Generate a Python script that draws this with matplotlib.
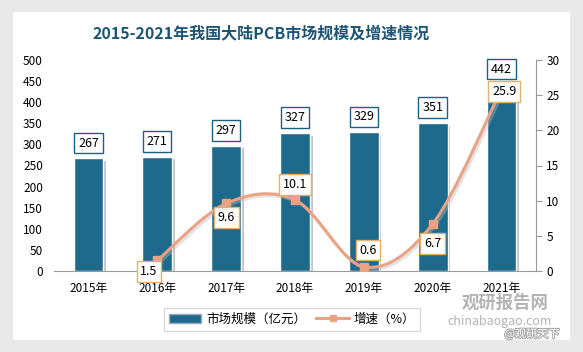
import matplotlib
matplotlib.use("Agg")
import matplotlib.pyplot as plt
from matplotlib.path import Path
from matplotlib.patches import PathPatch, FancyBboxPatch, Rectangle
from matplotlib.lines import Line2D
import matplotlib.patheffects as pe
import numpy as np

plt.rcParams['font.family'] = ['Noto Sans CJK SC', 'DejaVu Sans']
plt.rcParams['hatch.color'] = '#c4c4c4'
plt.rcParams['hatch.linewidth'] = 0.7

years = ['2015年', '2016年', '2017年', '2018年', '2019年', '2020年', '2021年']
market = [267, 271, 297, 327, 329, 351, 442]
growth_years = ['2016年', '2017年', '2018年', '2019年', '2020年', '2021年']
growth = [1.5, 9.6, 10.1, 0.6, 6.7, 25.9]
title = '2015-2021年我国大陆PCB市场规模及增速情况'
bar_name = '市场规模（亿元）'
line_name = '增速（%）'

BAR_C = '#1e6a8d'
LINE_C = '#eaa283'
LBL_BAR = '#1f5f80'
LBL_LINE = '#e3b26a'

W, H = 583, 352
fig = plt.figure(figsize=(W / 100, H / 100), dpi=100)
fig.patch.set_facecolor('#e9e9e9')

# white card
card = FancyBboxPatch((13 / W, 1 - 340 / H), 557 / W, 328 / H, boxstyle='square,pad=0',
                      transform=fig.transFigure, facecolor='white', edgecolor='none', zorder=-5)
fig.patches.append(card)

ax = fig.add_axes([54 / W, 1 - 271 / H, 482 / W, 211 / H])
ax.set_facecolor('white')
ax.add_patch(Rectangle((0, 0), 1, 1, transform=ax.transAxes, facecolor='none',
                       edgecolor='none', hatch='//////', zorder=0))
x = np.arange(len(years))
bars = ax.bar(x, market, width=0.43, color=BAR_C, edgecolor='white', linewidth=1.0, zorder=2,
              path_effects=[pe.SimplePatchShadow(offset=(2, -2), shadow_rgbFace='#888888', alpha=0.5),
                            pe.Normal()])
ax.set_xlim(-0.5, len(years) - 0.5)
ax.set_ylim(0, 500)
ax.set_yticks(range(0, 501, 50))
ax.set_xticks(x)
ax.set_xticklabels(years, fontsize=8.5)
ax.tick_params(axis='y', length=0, labelsize=8.5, pad=8)
ax.tick_params(axis='x', length=0, pad=8)
for s in ['top', 'right', 'left']:
    ax.spines[s].set_visible(False)
ax.spines['bottom'].set_color('#999999')

for xi, v in zip(x, market):
    ax.annotate(str(v), (xi, v), xytext=(0, 11), textcoords='offset points',
                ha='center', va='center', fontsize=9, zorder=5,
                bbox=dict(boxstyle='square,pad=0.3', fc='white', ec=LBL_BAR, lw=1.0))

ax2 = ax.twinx()
ax2.set_ylim(0, 30)
ax2.set_yticks(range(0, 31, 5))
ax2.tick_params(axis='y', labelsize=8.5, length=4, color='#999999', direction='out')
for s in ['top', 'left', 'bottom']:
    ax2.spines[s].set_visible(False)
ax2.spines['right'].set_color('#999999')

gx = np.array([years.index(g) for g in growth_years], dtype=float)
gy = np.array(growth, dtype=float)
pts = np.column_stack([gx, gy])
verts = [pts[0]]
codes = [Path.MOVETO]
n = len(pts)
for i in range(n - 1):
    p0 = pts[i - 1] if i > 0 else pts[i]
    p1 = pts[i]
    p2 = pts[i + 1]
    p3 = pts[i + 2] if i + 2 < n else pts[i + 1]
    c1 = p1 + (p2 - p0) / 6
    c2 = p2 - (p3 - p1) / 6
    verts += [c1, c2, p2]
    codes += [Path.CURVE4] * 3
curve = PathPatch(Path(verts, codes), facecolor='none', edgecolor=LINE_C, lw=2.2, zorder=3,
                  path_effects=[pe.SimpleLineShadow(offset=(1.5, -1.5), shadow_color='#bbbbbb', alpha=0.4),
                                pe.Normal()])
ax2.add_patch(curve)
ax2.plot(gx, gy, linestyle='none', marker='s', markersize=6, color=LINE_C, zorder=4)

offsets = [(-6, -8), (0, -10), (0, 11), (3, 12), (0, -14), (2, -2)]
for xi, v, off in zip(gx, gy, offsets):
    ax2.annotate(f'{v:.1f}', (xi, v), xytext=off, textcoords='offset points',
                 ha='center', va='center', fontsize=9, zorder=6,
                 bbox=dict(boxstyle='square,pad=0.3', fc='white', ec=LBL_LINE, lw=1.0))

fig.text(261 / W, 1 - 33 / H, title, ha='center', va='center', fontsize=11.5,
         fontweight='bold', color='#1d5575')

handles = [Rectangle((0, 0), 1, 1, facecolor=BAR_C, edgecolor='#9ab'),
           Line2D([], [], color=LINE_C, lw=2.2, marker='s', markersize=5)]
leg = fig.legend(handles, [bar_name, line_name], loc='center', bbox_to_anchor=(292 / W, 1 - 319 / H),
                 ncol=2, fontsize=9, frameon=True, fancybox=False, edgecolor='#cccccc',
                 handlelength=2.6, handletextpad=0.4, columnspacing=0.8, borderpad=0.4)
leg.get_frame().set_linewidth(0.8)

# watermark
fig.text(505 / W, 1 - 303 / H, '观研报告网', ha='center', va='center', fontsize=12.5,
         fontweight='bold', color='#9a9a9a', alpha=0.75)
fig.text(500 / W, 1 - 321 / H, 'chinabaogao.com', ha='center', va='center', fontsize=9,
         color='#9a9a9a', alpha=0.75)
fig.text(532 / W, 1 - 334 / H, '@观研天下', ha='center', va='center', fontsize=8,
         color='white', path_effects=[pe.withStroke(linewidth=1.5, foreground='#aaaaaa')])

fig.savefig('out.png', dpi=100, facecolor=fig.get_facecolor())
